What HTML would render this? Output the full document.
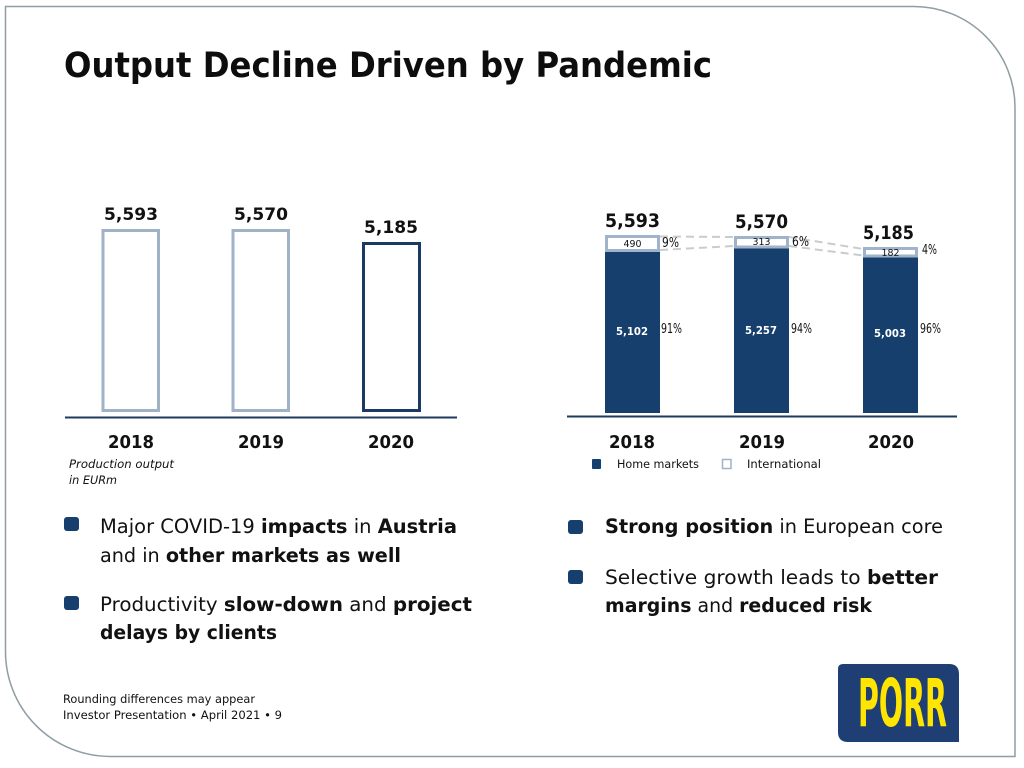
<!DOCTYPE html>
<html><head><meta charset="utf-8"><style>
html,body{margin:0;padding:0;background:#fff;}
svg{display:block;}
text{font-family:"DejaVu Sans","Liberation Sans",sans-serif;}
</style></head><body>
<svg width="1024" height="768" viewBox="0 0 1024 768" xmlns="http://www.w3.org/2000/svg">
<rect width="1024" height="768" fill="#fff"/>
<!-- frame -->
<path d="M5.5,6.5 H914 A101,101 0 0 1 1015,107.5 V756.5 H110 A105,105 0 0 1 5.5,651.5 Z" fill="none" stroke="#8e9ea3" stroke-width="1.5"/>

<!-- title -->
<text x="64" y="77" font-size="35" font-weight="bold" fill="#0d0d0d" textLength="648" lengthAdjust="spacingAndGlyphs">Output Decline Driven by Pandemic</text>

<!-- LEFT CHART -->
<rect x="103" y="230.5" width="55.5" height="180" fill="#fff" stroke="#9fb2c6" stroke-width="3"/>
<rect x="233" y="230.5" width="55.5" height="180" fill="#fff" stroke="#9fb2c6" stroke-width="3"/>
<rect x="363.5" y="243.5" width="56" height="167" fill="#fff" stroke="#1b3a63" stroke-width="3"/>
<line x1="65" y1="417.5" x2="457" y2="417.5" stroke="#1d3a5f" stroke-width="2"/>
<g font-weight="bold" fill="#111" font-size="17" text-anchor="middle">
<text x="131" y="220" textLength="54" lengthAdjust="spacingAndGlyphs">5,593</text>
<text x="261" y="220" textLength="54" lengthAdjust="spacingAndGlyphs">5,570</text>
<text x="391" y="233" textLength="54" lengthAdjust="spacingAndGlyphs">5,185</text>
</g>
<g font-weight="bold" fill="#111" font-size="18" text-anchor="middle">
<text x="131" y="448" textLength="46" lengthAdjust="spacingAndGlyphs">2018</text>
<text x="261" y="448" textLength="46" lengthAdjust="spacingAndGlyphs">2019</text>
<text x="391" y="448" textLength="46" lengthAdjust="spacingAndGlyphs">2020</text>
</g>
<text x="69" y="468" font-size="11.5" font-style="italic" fill="#111" textLength="105" lengthAdjust="spacingAndGlyphs">Production output</text>
<text x="69" y="484" font-size="11.5" font-style="italic" fill="#111" textLength="48" lengthAdjust="spacingAndGlyphs">in EURm</text>

<!-- RIGHT CHART -->
<g stroke="#c9ccce" stroke-width="2" stroke-dasharray="8,5" fill="none">
<line x1="660" y1="236.5" x2="734" y2="237"/>
<line x1="660" y1="250" x2="734" y2="246"/>
<line x1="789" y1="237" x2="863" y2="249"/>
<line x1="789" y1="246" x2="863" y2="255.5"/>
</g>
<rect x="605" y="251" width="55" height="162" fill="#173f6e"/>
<rect x="734" y="247" width="55" height="166" fill="#173f6e"/>
<rect x="863" y="256" width="55" height="157" fill="#173f6e"/>
<rect x="606.5" y="236.5" width="52" height="14" fill="#fff" stroke="#9fb4cb" stroke-width="3"/>
<rect x="735.5" y="237.5" width="52" height="9.5" fill="#fff" stroke="#9fb4cb" stroke-width="3"/>
<rect x="864.5" y="248.5" width="52" height="7.5" fill="#fff" stroke="#9fb4cb" stroke-width="3"/>
<line x1="567" y1="416.5" x2="957" y2="416.5" stroke="#1d3a5f" stroke-width="2"/>

<g font-weight="bold" fill="#111" font-size="19">
<text x="605" y="227" textLength="55" lengthAdjust="spacingAndGlyphs">5,593</text>
<text x="735" y="228" textLength="53" lengthAdjust="spacingAndGlyphs">5,570</text>
<text x="863" y="239" textLength="51" lengthAdjust="spacingAndGlyphs">5,185</text>
</g>
<g fill="#111" font-size="10" text-anchor="middle">
<text x="632.5" y="247" textLength="18" lengthAdjust="spacingAndGlyphs">490</text>
<text x="761.5" y="245" textLength="18" lengthAdjust="spacingAndGlyphs">313</text>
<text x="890.5" y="256" textLength="18" lengthAdjust="spacingAndGlyphs">182</text>
</g>
<g fill="#111" font-size="13">
<text x="662" y="247" textLength="17" lengthAdjust="spacingAndGlyphs">9%</text>
<text x="792" y="246" textLength="17" lengthAdjust="spacingAndGlyphs">6%</text>
<text x="922" y="254" textLength="15" lengthAdjust="spacingAndGlyphs">4%</text>
<text x="661" y="333" textLength="21" lengthAdjust="spacingAndGlyphs">91%</text>
<text x="791" y="333" textLength="21" lengthAdjust="spacingAndGlyphs">94%</text>
<text x="920" y="333" textLength="21" lengthAdjust="spacingAndGlyphs">96%</text>
</g>
<g fill="#fff" font-weight="bold" font-size="10.5" text-anchor="middle">
<text x="632" y="335" textLength="32" lengthAdjust="spacingAndGlyphs">5,102</text>
<text x="761" y="334" textLength="32" lengthAdjust="spacingAndGlyphs">5,257</text>
<text x="890" y="337" textLength="32" lengthAdjust="spacingAndGlyphs">5,003</text>
</g>
<g font-weight="bold" fill="#111" font-size="18" text-anchor="middle">
<text x="632" y="448" textLength="46" lengthAdjust="spacingAndGlyphs">2018</text>
<text x="762" y="448" textLength="46" lengthAdjust="spacingAndGlyphs">2019</text>
<text x="891" y="448" textLength="46" lengthAdjust="spacingAndGlyphs">2020</text>
</g>
<!-- legend -->
<rect x="592" y="459" width="9" height="10" rx="1" fill="#173f6e"/>
<text x="617" y="468" font-size="11.5" fill="#111" textLength="82" lengthAdjust="spacingAndGlyphs">Home markets</text>
<rect x="722.5" y="459.5" width="8.5" height="9" fill="#fff" stroke="#9fb4cb" stroke-width="1.5"/>
<text x="747" y="468" font-size="11.5" fill="#111" textLength="74" lengthAdjust="spacingAndGlyphs">International</text>

<!-- LEFT BULLETS -->
<rect x="64" y="517" width="15" height="14" rx="3" fill="#173f6e"/>
<text x="100" y="533" font-size="19.5" fill="#111" textLength="357" lengthAdjust="spacingAndGlyphs">Major COVID-19 <tspan font-weight="bold">impacts</tspan> in <tspan font-weight="bold">Austria</tspan></text>
<text x="100" y="562" font-size="19.5" fill="#111" textLength="301" lengthAdjust="spacingAndGlyphs">and in <tspan font-weight="bold">other markets as well</tspan></text>
<rect x="64" y="596" width="15" height="14" rx="3" fill="#173f6e"/>
<text x="100" y="611" font-size="19.5" fill="#111" textLength="372" lengthAdjust="spacingAndGlyphs">Productivity <tspan font-weight="bold">slow-down</tspan> and <tspan font-weight="bold">project</tspan></text>
<text x="100" y="639" font-size="19.5" font-weight="bold" fill="#111" textLength="177" lengthAdjust="spacingAndGlyphs">delays by clients</text>

<!-- RIGHT BULLETS -->
<rect x="568" y="520" width="15" height="14" rx="3" fill="#173f6e"/>
<text x="605" y="533" font-size="19.5" fill="#111" textLength="338" lengthAdjust="spacingAndGlyphs"><tspan font-weight="bold">Strong position</tspan> in European core</text>
<rect x="568" y="570" width="15" height="14" rx="3" fill="#173f6e"/>
<text x="605" y="584" font-size="19.5" fill="#111" textLength="333" lengthAdjust="spacingAndGlyphs">Selective growth leads to <tspan font-weight="bold">better</tspan></text>
<text x="605" y="612" font-size="19.5" fill="#111" textLength="267" lengthAdjust="spacingAndGlyphs"><tspan font-weight="bold">margins</tspan> and <tspan font-weight="bold">reduced risk</tspan></text>

<!-- footer -->
<text x="63" y="703" font-size="11.5" fill="#111" textLength="192" lengthAdjust="spacingAndGlyphs">Rounding differences may appear</text>
<text x="63" y="719" font-size="11.5" fill="#111" textLength="219" lengthAdjust="spacingAndGlyphs">Investor Presentation • April 2021 • 9</text>

<!-- logo -->
<path d="M843,664 H949 Q959,664 959,674 V742 H848 Q838,742 838,732 V669 Q838,664 843,664 Z" fill="#1f3f74"/>
<text x="858" y="726" font-family="Liberation Sans, sans-serif" font-size="66" font-weight="bold" fill="#ffe500" textLength="89" lengthAdjust="spacingAndGlyphs">PORR</text>
</svg>
</body></html>
